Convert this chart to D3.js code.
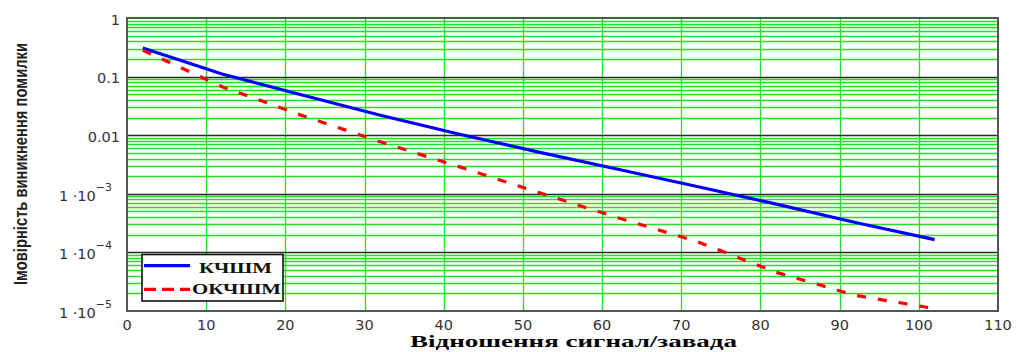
<!DOCTYPE html>
<html>
<head>
<meta charset="utf-8">
<script src="https://cdn.jsdelivr.net/npm/d3@7"></script>
<style>
  body { margin: 0; background: #fff; }
  svg { display: block; }
</style>
</head>
<body>
<svg id="chart"></svg>
<script>
const width = 1018;
const height = 352;

// data (points every 10 units from 2 to 102)
const snr = [2, 12, 22, 32, 42, 52, 62, 72, 82, 92, 102];
const kchshm = [0.308, 0.111, 0.0489, 0.0219, 0.0104, 0.00515, 0.00263, 0.00133, 6.67e-4, 3.24e-4, 1.65e-4];
const okchshm = [0.282, 0.0673, 0.0220, 0.0077, 0.00288, 0.00105, 3.9e-4, 1.53e-4, 4.57e-5, 1.85e-5, 1.1e-5];
const xTicks = [0, 10, 20, 30, 40, 50, 60, 70, 80, 90, 100, 110];
const yTicks = [1, 0.1, 0.01, 1e-3, 1e-4, 1e-5];
const yTickLabels = ["1", "0.1", "0.01", ["1 ·10", "−3"], ["1 ·10", "−4"], ["1 ·10", "−5"]];
const seriesNames = ["КЧШМ", "ОКЧШМ"];

const plot = { left: 127, right: 998, top: 18, bottom: 311 };

const svg = d3.select("#chart")
    .attr("width", width)
    .attr("height", height);

const x = d3.scaleLinear().domain([0, 110]).range([plot.left, plot.right]);
const y = d3.scaleLog().domain([1e-5, 1]).range([plot.bottom, plot.top]);

// minor grid (green) - 2..9 in each decade
const minor = [];
for (let e = -5; e < 0; e++) {
    for (let m = 2; m <= 9; m++) minor.push(m * Math.pow(10, e));
}
svg.append("g")
    .selectAll("line")
    .data(minor)
    .join("line")
    .attr("x1", plot.left).attr("x2", plot.right)
    .attr("y1", d => Math.round(y(d)) + 0.5).attr("y2", d => Math.round(y(d)) + 0.5)
    .attr("stroke", "#22e022")
    .attr("stroke-width", 1.3);

// vertical grid
svg.append("g")
    .selectAll("line")
    .data(xTicks.slice(1, -1))
    .join("line")
    .attr("x1", d => Math.round(x(d)) + 0.5).attr("x2", d => Math.round(x(d)) + 0.5)
    .attr("y1", plot.top).attr("y2", plot.bottom)
    .attr("stroke", "#22e022")
    .attr("stroke-width", 1.3);

// decade lines
svg.append("g")
    .selectAll("line")
    .data(yTicks.slice(1, -1))
    .join("line")
    .attr("x1", plot.left).attr("x2", plot.right)
    .attr("y1", d => Math.round(y(d)) + 0.5).attr("y2", d => Math.round(y(d)) + 0.5)
    .attr("stroke", "#2a2a2a")
    .attr("stroke-width", 1.4);

// frame
svg.append("rect")
    .attr("x", plot.left).attr("y", plot.top)
    .attr("width", plot.right - plot.left)
    .attr("height", plot.bottom - plot.top)
    .attr("fill", "none")
    .attr("stroke", "#555")
    .attr("stroke-width", 2);

// x tick labels
svg.append("g")
    .selectAll("text")
    .data(xTicks)
    .join("text")
    .attr("x", d => x(d))
    .attr("y", 330)
    .attr("text-anchor", "middle")
    .attr("font-family", "DejaVu Sans, sans-serif")
    .attr("font-size", "14.5px")
    .attr("fill", "#333")
    .text(d => d);

// y tick labels
const yl = svg.append("g")
    .selectAll("text")
    .data(yTicks)
    .join("text")
    .attr("x", (d, i) => typeof yTickLabels[i] === "string" ? 120 : 112)
    .attr("y", d => y(d) + 6.7)
    .attr("text-anchor", "end")
    .attr("font-family", "DejaVu Sans, sans-serif")
    .attr("font-size", "14.5px")
    .attr("fill", "#333");

yl.each(function (d, i) {
    const lab = yTickLabels[i];
    const t = d3.select(this);
    if (typeof lab === "string") {
        t.text(lab);
    } else {
        t.append("tspan").text(lab[0]);
        t.append("tspan")
            .attr("dy", -10)
            .attr("font-size", "11px")
            .text(lab[1]);
    }
});

// series
const line = d3.line()
    .x(d => x(d[0]))
    .y(d => y(d[1]));

svg.append("path")
    .datum(snr.map((s, i) => [s, kchshm[i]]))
    .attr("d", line)
    .attr("fill", "none")
    .attr("stroke", "#0000ff")
    .attr("stroke-width", 3.2);

svg.append("path")
    .datum(snr.map((s, i) => [s, okchshm[i]]))
    .attr("d", line)
    .attr("fill", "none")
    .attr("stroke", "#ff0000")
    .attr("stroke-width", 3.2)
    .attr("stroke-dasharray", "9,12");

// legend
const legend = svg.append("g");
legend.append("rect")
    .attr("x", 142).attr("y", 254.5)
    .attr("width", 141).attr("height", 46.5)
    .attr("fill", "#fff")
    .attr("stroke", "#111")
    .attr("stroke-width", 1.6);

legend.append("line")
    .attr("x1", 144).attr("x2", 190)
    .attr("y1", 265.7).attr("y2", 265.7)
    .attr("stroke", "#0000ff")
    .attr("stroke-width", 3.2);
legend.append("line")
    .attr("x1", 144).attr("x2", 190)
    .attr("y1", 289.3).attr("y2", 289.3)
    .attr("stroke", "#ff0000")
    .attr("stroke-width", 3.2)
    .attr("stroke-dasharray", "12,6");

legend.append("text")
    .attr("x", 199).attr("y", 272.7)
    .attr("font-family", "Liberation Serif, serif")
    .attr("font-weight", "bold")
    .attr("font-size", "14.5px")
    .attr("textLength", 73)
    .attr("lengthAdjust", "spacingAndGlyphs")
    .attr("fill", "#111")
    .text(seriesNames[0]);
legend.append("text")
    .attr("x", 192).attr("y", 294.3)
    .attr("font-family", "Liberation Serif, serif")
    .attr("font-weight", "bold")
    .attr("font-size", "14.5px")
    .attr("textLength", 89)
    .attr("lengthAdjust", "spacingAndGlyphs")
    .attr("fill", "#111")
    .text(seriesNames[1]);

// axis titles
svg.append("text")
    .attr("x", 410).attr("y", 347)
    .attr("font-family", "Liberation Serif, serif")
    .attr("font-weight", "bold")
    .attr("font-size", "17px")
    .attr("textLength", 327)
    .attr("lengthAdjust", "spacingAndGlyphs")
    .attr("fill", "#000")
    .text("Відношення сигнал/завада");

svg.append("text")
    .attr("transform", "translate(27,285) rotate(-90) scale(1,1.25)")
    .attr("font-family", "Liberation Sans, Arial, sans-serif")
    .attr("font-weight", "bold")
    .attr("font-size", "15px")
    .attr("textLength", 242)
    .attr("lengthAdjust", "spacingAndGlyphs")
    .attr("fill", "#222")
    .text("Імовірність виникнення помилки");
</script>
</body>
</html>
